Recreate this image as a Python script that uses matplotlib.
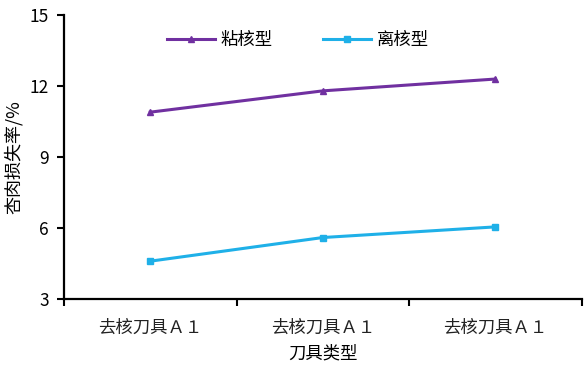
import matplotlib
matplotlib.use('Agg')
import matplotlib.pyplot as plt
import numpy as np

plt.rcParams['font.family'] = ['Noto Sans CJK SC', 'DejaVu Sans']

# data
categories = ['去核刀具Ａ１', '去核刀具Ａ１', '去核刀具Ａ１']
sticky = [10.9, 11.8, 12.3]     # 粘核型
freestone = [4.6, 5.6, 6.05]    # 离核型
yticks = [3, 6, 9, 12, 15]

fig = plt.figure(figsize=(5.87, 3.79), dpi=100)
ax = fig.add_axes([0.109, 0.211, 0.882, 0.749])

x = np.arange(len(categories))
ax.plot(x, sticky, color='#7030A0', lw=2.2, marker='^', ms=5, label='粘核型')
ax.plot(x, freestone, color='#1FB0E8', lw=2.2, marker='s', ms=4.5, label='离核型')

ax.set_xlim(-0.5, len(categories) - 0.5)
ax.set_ylim(3, 15)
ax.set_yticks(yticks)
ax.set_yticklabels([str(v) for v in yticks], fontsize=12.5)
ax.set_xticks(x)
ax.set_xticklabels(categories, fontsize=12.5, color='#222222')
ax.set_xticks(np.arange(len(categories) + 1) - 0.5, minor=True)
ax.tick_params(axis='x', which='major', length=0, pad=14)
ax.tick_params(axis='x', which='minor', length=5, width=1.5, direction='out')
ax.tick_params(axis='y', length=5, width=1.5, direction='out', pad=6)

for s in ['top', 'right']:
    ax.spines[s].set_visible(False)
for s in ['left', 'bottom']:
    ax.spines[s].set_linewidth(1.6)

ax.set_ylabel('杏肉损失率/%', fontsize=13)
ax.yaxis.set_label_coords(-0.08, 0.5)
ax.set_xlabel('刀具类型', fontsize=12.5, labelpad=6)

ax.legend(loc='upper left', bbox_to_anchor=(0.168, 1.0), ncol=2, frameon=False,
          fontsize=12.5, columnspacing=2.9, handlelength=2.8, handletextpad=0.3)

fig.savefig('out.png', dpi=100)
